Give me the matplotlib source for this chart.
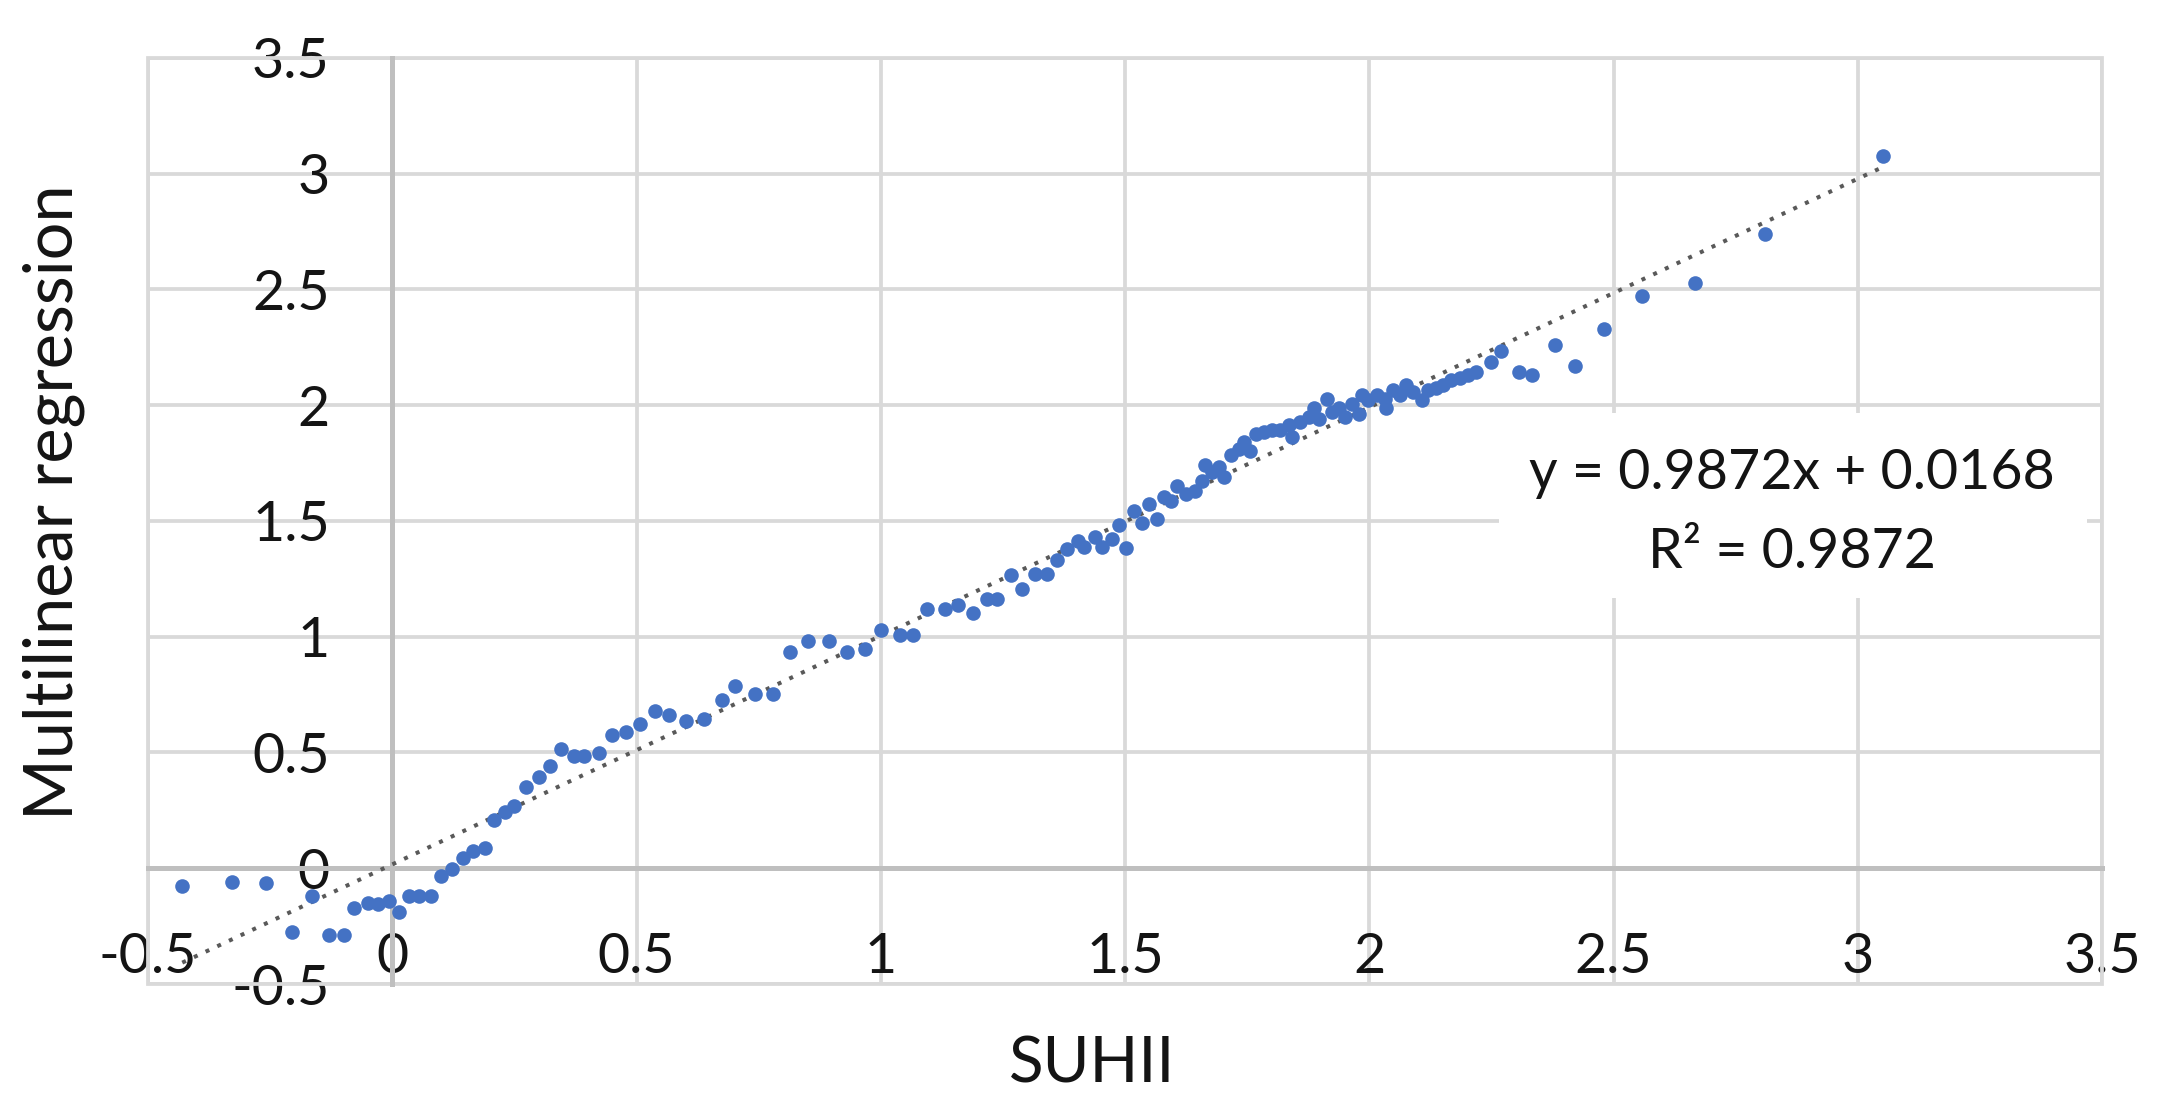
import matplotlib
matplotlib.use('Agg')
import matplotlib.pyplot as plt
from matplotlib.patches import Rectangle

# SUHII (x) vs multilinear regression estimate (y)
suhii = [-0.430, -0.329, -0.258, -0.206, -0.165, -0.129, -0.098, -0.078, -0.049, -0.030,
         -0.006, 0.014, 0.035, 0.055, 0.079, 0.100, 0.122, 0.144, 0.165, 0.189,
         0.209, 0.230, 0.250, 0.273, 0.300, 0.323, 0.346, 0.371, 0.393, 0.423,
         0.450, 0.479, 0.506, 0.537, 0.566, 0.602, 0.637, 0.674, 0.701, 0.742,
         0.779, 0.815, 0.851, 0.894, 0.930, 0.967, 1.001, 1.039, 1.066, 1.095,
         1.131, 1.158, 1.188, 1.217, 1.238, 1.266, 1.288, 1.316, 1.340, 1.360,
         1.381, 1.404, 1.415, 1.438, 1.452, 1.474, 1.488, 1.501, 1.518, 1.535,
         1.549, 1.566, 1.580, 1.593, 1.607, 1.624, 1.643, 1.658, 1.663, 1.678,
         1.692, 1.702, 1.716, 1.733, 1.743, 1.756, 1.767, 1.784, 1.801, 1.818,
         1.835, 1.841, 1.859, 1.876, 1.886, 1.896, 1.913, 1.923, 1.937, 1.950,
         1.964, 1.978, 1.984, 1.998, 2.015, 2.032, 2.035, 2.049, 2.063, 2.076,
         2.090, 2.107, 2.120, 2.137, 2.151, 2.168, 2.185, 2.202, 2.219, 2.250,
         2.270, 2.306, 2.333, 2.380, 2.422, 2.480, 2.559, 2.666, 2.809, 3.052]
mlr = [-0.075, -0.061, -0.064, -0.274, -0.122, -0.288, -0.288, -0.170, -0.151, -0.153,
       -0.141, -0.187, -0.122, -0.122, -0.122, -0.032, -0.003, 0.045, 0.074, 0.088,
       0.209, 0.241, 0.270, 0.349, 0.393, 0.440, 0.516, 0.484, 0.484, 0.499,
       0.577, 0.588, 0.622, 0.678, 0.664, 0.635, 0.646, 0.725, 0.787, 0.751,
       0.754, 0.935, 0.983, 0.983, 0.932, 0.949, 1.029, 1.007, 1.007, 1.120,
       1.120, 1.135, 1.101, 1.164, 1.164, 1.268, 1.207, 1.273, 1.273, 1.330,
       1.378, 1.414, 1.388, 1.432, 1.388, 1.422, 1.481, 1.384, 1.543, 1.493,
       1.573, 1.507, 1.604, 1.587, 1.652, 1.616, 1.630, 1.674, 1.743, 1.710,
       1.732, 1.688, 1.783, 1.812, 1.840, 1.804, 1.877, 1.884, 1.891, 1.891,
       1.913, 1.862, 1.928, 1.949, 1.986, 1.942, 2.029, 1.971, 1.986, 1.949,
       2.007, 1.964, 2.043, 2.022, 2.043, 2.029, 1.986, 2.065, 2.043, 2.087,
       2.058, 2.022, 2.065, 2.073, 2.087, 2.109, 2.116, 2.130, 2.142, 2.188,
       2.235, 2.145, 2.130, 2.260, 2.170, 2.330, 2.470, 2.527, 2.738, 3.077]

ticks = [-0.5, 0, 0.5, 1, 1.5, 2, 2.5, 3, 3.5]
tick_labels = ['-0.5', '0', '0.5', '1', '1.5', '2', '2.5', '3', '3.5']

# linear trendline as printed on the chart
slope = 0.9872
intercept = 0.0168
eq_text = 'y = 0.9872x + 0.0168'
r2_text = 'R² = 0.9872'

plt.rcParams['font.family'] = ['Lato', 'DejaVu Sans']

fig = plt.figure(figsize=(21.68, 11.13), dpi=100)
ax = fig.add_axes([0.0683, 0.1159, 0.9013, 0.8320])
ax.set_xlim(-0.5, 3.5)
ax.set_ylim(-0.5, 3.5)

# axes cross at zero, Excel style
ax.spines['left'].set_position(('data', 0))
ax.spines['bottom'].set_position(('data', 0))
ax.spines['top'].set_visible(False)
ax.spines['right'].set_visible(False)
for s in ['left', 'bottom']:
    ax.spines[s].set_color('#BFBFBF')
    ax.spines[s].set_linewidth(3.6)
    ax.spines[s].set_zorder(1.5)

ax.set_xticks(ticks, tick_labels)
ax.set_yticks(ticks, tick_labels)
ax.tick_params(length=0, labelsize=40, labelcolor='#141414')
ax.tick_params(axis='x', pad=46)
ax.tick_params(axis='y', pad=45)

ax.grid(True, color='#D9D9D9', lw=2.7)
ax.set_axisbelow(True)
ax.add_patch(Rectangle((0, 0), 1, 1, transform=ax.transAxes, fill=False,
                       ec='#D9D9D9', lw=2.7, clip_on=False, zorder=0.6))

# trendline from smallest to largest x
x_ends = [min(suhii), max(suhii)]
y_ends = [slope * v + intercept for v in x_ends]
ax.plot(x_ends, y_ends, color='#595959', lw=2.9, linestyle=(0, (1, 2.2)), zorder=2.5)

ax.plot(suhii, mlr, 'o', ms=10.5, color='#4472C4', mec='none', zorder=3)

# equation label with white background
ax.add_patch(Rectangle((2.265, 1.167), 1.204, 0.8, facecolor='white', ec='none', zorder=1))
ax.text(2.865, 1.703, eq_text, ha='center', va='center', fontsize=40, color='#141414', zorder=4)
ax.text(2.865, 1.362, r2_text, ha='center', va='center', fontsize=40, color='#141414', zorder=4)

fig.text(0.5037, 0.044, 'SUHII', ha='center', va='center', fontsize=46, color='#141414')
fig.text(0.025, 0.549, 'Multilinear regression', ha='center', va='center',
         rotation=90, fontsize=48, color='#141414')

fig.savefig('out.png', dpi=100)
